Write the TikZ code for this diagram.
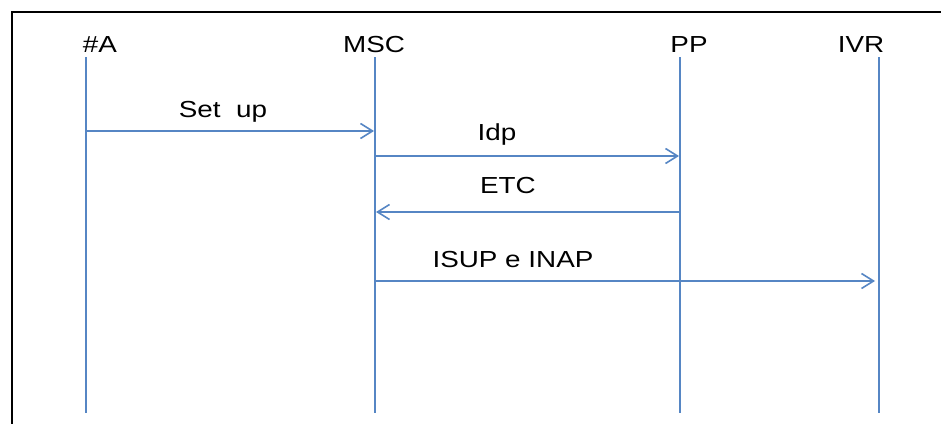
\documentclass[tikz,border=0pt]{standalone}
\usepackage{fontspec}
\setmainfont{Liberation Sans}[FakeStretch=1.2]
\usetikzlibrary{arrows.meta}
\definecolor{lineblue}{RGB}{86,134,196}
\begin{document}
\begin{tikzpicture}[x=1pt,y=-1pt,
  lifeline/.style={draw=lineblue,line width=1.7pt},
  msg/.style={draw=lineblue,line width=1.4pt,-{Straight Barb[length=12pt,width=15pt,line width=1.6pt]}},
  lbl/.style={anchor=base,inner sep=0pt,font=\fontsize{23.2}{27}\selectfont,text=black}]
\useasboundingbox (0,0) rectangle (941,423);
\draw[line width=2.8pt,black] (12,425) -- (12,12) -- (943,12);
% participants
\node[lbl] (hA) at (100,52) {\#A};
\node[lbl] (hMSC) at (374,52) {MSC};
\node[lbl] (hPP) at (689,52) {PP};
\node[lbl] (hIVR) at (861,52) {IVR};
% lifelines
\coordinate (tA) at (86,57);   \coordinate (bA) at (86,413);
\coordinate (tM) at (375,57);  \coordinate (bM) at (375,413);
\coordinate (tP) at (680,57);  \coordinate (bP) at (680,413);
\coordinate (tI) at (879,57);  \coordinate (bI) at (879,413);
\draw[lifeline] (tA) -- (bA);
\draw[lifeline] (tM) -- (bM);
\draw[lifeline] (tP) -- (bP);
\draw[lifeline] (tI) -- (bI);
% messages
\coordinate (m1s) at (86,131);  \coordinate (m1e) at (374,131);
\coordinate (m2s) at (375,156); \coordinate (m2e) at (679,156);
\coordinate (m3s) at (680,212); \coordinate (m3e) at (376,212);
\coordinate (m4s) at (375,281); \coordinate (m4e) at (875,281);
\draw[msg] (m1s) -- (m1e);
\draw[msg] (m2s) -- (m2e);
\draw[msg] (m3s) -- (m3e);
\draw[msg] (m4s) -- (m4e);
\node[lbl] (l1) at (223,117) {Set\ \ up};
\node[lbl] (l2) at (497,140) {Idp};
\node[lbl] (l3) at (508,193) {ETC};
\node[lbl] (l4) at (513,267) {ISUP e INAP};
\end{tikzpicture}
\end{document}
